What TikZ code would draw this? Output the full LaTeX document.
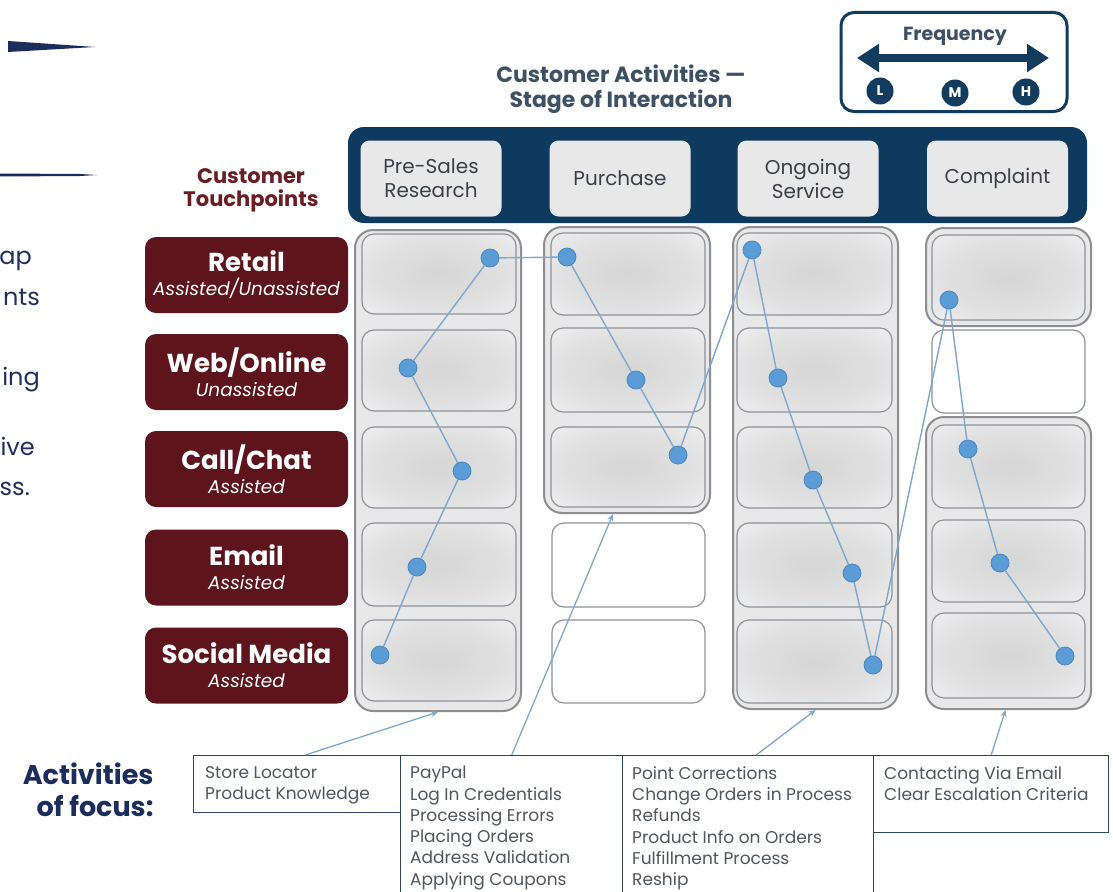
\documentclass[tikz,border=0pt]{standalone}
\usepackage{fontspec}
\setmainfont{Poppins}
\usetikzlibrary{arrows.meta,positioning,calc}

\definecolor{azulbarra}{HTML}{0D3A5E}
\definecolor{azulfreq}{HTML}{123B5E}
\definecolor{granate}{HTML}{5D141C}
\definecolor{granatetit}{HTML}{6A1E24}
\definecolor{azulfoco}{HTML}{1B2D5C}
\definecolor{azultexto}{HTML}{1F2E5C}
\definecolor{grisetapa}{HTML}{E8E8E8}
\definecolor{textoetapa}{HTML}{3A3F48}
\definecolor{gristit}{HTML}{3C5066}
\definecolor{bordecelda}{HTML}{8C939C}
\definecolor{bordegrupo}{HTML}{8E8E8E}
\definecolor{fondogrupo}{HTML}{E8E8E8}
\definecolor{celdaint}{HTML}{D6D6D6}
\definecolor{celdaext}{HTML}{F7F7F7}
\definecolor{puntoazul}{HTML}{5B9BD6}
\definecolor{puntoborde}{HTML}{4A86C2}
\definecolor{lineaazul}{HTML}{7EA7CF}
\definecolor{textolista}{HTML}{505560}
\definecolor{bordefoco}{HTML}{2E4466}

% sombreado suave de las celdas
\pgfdeclareradialshading{suave}{\pgfpointorigin}{color(0bp)=(celdaint); color(20bp)=(celdaint!70!celdaext);
  color(45bp)=(celdaext); color(50bp)=(celdaext)}

\tikzset{
  barra/.style={fill=azulbarra, rounded corners=16pt, inner sep=0pt},
  etapa/.style={fill=grisetapa, rounded corners=9pt, minimum width=141pt, minimum height=76pt,
    align=center, text=textoetapa, font=\fontsize{20}{24}\selectfont},
  canal/.style={fill=granate, rounded corners=11pt, minimum width=203pt, minimum height=76pt,
    align=center, text=white, inner sep=0pt, font=\fontsize{26}{24}\selectfont},
  grupo/.style={draw=bordegrupo, line width=2pt, fill=fondogrupo, rounded corners=18pt, inner sep=0pt},
  celda/.style={draw=bordecelda, line width=1.2pt, rounded corners=12pt, shading=suave},
  vacia/.style={draw=bordecelda, line width=1.2pt, rounded corners=12pt, fill=white},
  punto/.style={circle, fill=puntoazul, draw=puntoborde, line width=0.8pt, minimum size=18pt, inner sep=0pt},
  enlace/.style={draw=lineaazul, line width=1.4pt},
  foco/.style={draw=bordefoco, line width=1.4pt, fill=white, inner sep=0pt, anchor=north west},
  lista/.style={anchor=north west, align=left, text=textolista, font=\fontsize{17}{21.3}\selectfont, inner sep=0pt},
  flecha/.style={draw=lineaazul, line width=1.3pt, -{Stealth[length=7pt,width=6pt]}},
  frecletra/.style={circle, fill=azulfreq, minimum size=27pt, inner sep=0pt, text=white,
    font=\fontsize{14}{14}\selectfont\bfseries},
  corte/.style={anchor=base east, text=azultexto, font=\fontsize{24}{24}\selectfont, inner sep=0pt},
}
\newcommand{\sub}[1]{{\fontsize{18.5}{18}\selectfont\itshape #1}}

\begin{document}
\begin{tikzpicture}[x=1pt, y=-1pt]
  \useasboundingbox[fill=white] (0,0) rectangle (1113,891);

  % Adornos y texto cortado a la izquierda
  \fill[azulfoco] (8,41) -- (95,47) -- (8,52) -- cycle;
  \fill[azulfoco] (0,173.5) -- (80,174) -- (97,175) -- (80,176) -- (0,176.5) -- cycle;
  \node[corte] (c1) at (32,264) {ap};
  \node[corte] (c2) at (40,305) {nts};
  \node[corte] (c3) at (40,385) {ing};
  \node[corte] (c4) at (35,455) {ive};
  \node[corte] (c5) at (30,495) {ss.};

  % Caja de frecuencia
  \node[draw=azulfreq, line width=3pt, rounded corners=13pt, minimum width=226pt, minimum height=99pt] (freq) at (954,62) {};
  \node[text=gristit, font=\fontsize{19}{19}\selectfont\bfseries] (freqtit) at (955,36) {Frequency};
  \coordinate (fizq) at (857,58);
  \coordinate (fder) at (1049,58);
  \draw[azulfreq, line width=8pt, {Triangle[length=22pt,width=27pt]}-{Triangle[length=22pt,width=27pt]}] (fizq) -- (fder);
  \node[frecletra] (fl) at (880,91) {L};
  \node[frecletra] (fm) at (955,93) {M};
  \node[frecletra] (fh) at (1026,92) {H};

  % Titulos
  \node[align=center, text=gristit, font=\fontsize{22}{24.5}\selectfont\bfseries] (actividades) at (621,89)
    {Customer Activities —\\Stage of Interaction};
  \node[align=center, text=granatetit, font=\fontsize{21}{23}\selectfont\bfseries] (puntos) at (251,190)
    {Customer\\Touchpoints};

  % Barra de etapas
  \node[barra, minimum width=739pt, minimum height=96pt] (barra) at (717.5,175) {};
  \node[etapa] (e1) at (431,178.5) {Pre-Sales\\Research};
  \node[etapa] (e2) at (620,178.5) {Purchase};
  \node[etapa] (e3) at (808,178.5) {Ongoing\\Service};
  \node[etapa] (e4) at (997.5,178.5) {Complaint};

  % Canales (granate)
  \node[canal] (retail) at (246.5,275) {\bfseries Retail\\\sub{Assisted/Unassisted}};
  \node[canal] (web) at (246.5,372) {\bfseries Web/Online\\\sub{Unassisted}};
  \node[canal] (call) at (246.5,469) {\bfseries Call/Chat\\\sub{Assisted}};
  \node[canal] (email) at (246.5,567.5) {\bfseries Email\\\sub{Assisted}};
  \node[canal] (social) at (246.5,665.5) {\bfseries Social Media\\\sub{Assisted}};

  % Grupos de columnas
  \node[grupo, minimum width=166pt, minimum height=481pt] (g1) at (438,470.5) {};
  \node[grupo, minimum width=166pt, minimum height=286pt] (g2) at (627,370) {};
  \node[grupo, minimum width=165pt, minimum height=482pt] (g3) at (815.5,468) {};
  \node[grupo, minimum width=165pt, minimum height=98pt] (g4a) at (1008.5,277) {};
  \node[grupo, minimum width=165pt, minimum height=292pt] (g4b) at (1008.5,563) {};

  % Celdas
  \draw[celda] (362,234) rectangle (516,314);
  \draw[celda] (362,330) rectangle (516,411);
  \draw[celda] (362,427) rectangle (516,508);
  \draw[celda] (362,523) rectangle (516,606);
  \draw[celda] (362,620) rectangle (516,701);

  \draw[celda] (551,233) rectangle (705,315);
  \draw[celda] (551,328) rectangle (705,412);
  \draw[celda] (551,427) rectangle (705,507);
  \draw[vacia] (552,523) rectangle (705,607);
  \draw[vacia] (552,620) rectangle (705,703);

  \draw[celda] (737,233) rectangle (892,315);
  \draw[celda] (737,328) rectangle (892,412);
  \draw[celda] (737,427) rectangle (892,508);
  \draw[celda] (737,523) rectangle (892,607);
  \draw[celda] (737,620) rectangle (892,703);

  \draw[celda] (932,235) rectangle (1085,320);
  \draw[vacia] (932,330) rectangle (1085,413);
  \draw[celda] (932,425) rectangle (1085,508);
  \draw[celda] (932,520) rectangle (1085,602);
  \draw[celda] (932,613) rectangle (1085,698);

  % Puntos del recorrido
  \node[punto] (p11) at (490,258) {};
  \node[punto] (p12) at (408,368) {};
  \node[punto] (p13) at (462,471) {};
  \node[punto] (p14) at (417,567) {};
  \node[punto] (p15) at (380,655) {};
  \node[punto] (p21) at (567,257) {};
  \node[punto] (p22) at (636,380) {};
  \node[punto] (p23) at (678,455) {};
  \node[punto] (p31) at (752,250) {};
  \node[punto] (p32) at (778,378) {};
  \node[punto] (p33) at (813,480) {};
  \node[punto] (p34) at (852,573) {};
  \node[punto] (p35) at (873,665) {};
  \node[punto] (p41) at (949,300) {};
  \node[punto] (p42) at (968,449) {};
  \node[punto] (p43) at (1000,563) {};
  \node[punto] (p44) at (1065,656) {};

  % Recorrido
  \draw[enlace] (p15) -- (p14) -- (p13) -- (p12) -- (p11) -- (p21) -- (p22) -- (p23) -- (p31) -- (p32)
    -- (p33) -- (p34) -- (p35) -- (p41) -- (p42) -- (p43) -- (p44);

  % Actividades de foco
  \node[align=right, anchor=east, text=azulfoco, font=\fontsize{27}{32}\selectfont\bfseries] (focotit) at (157,790)
    {Activities\\of focus:};
  \node[foco, minimum width=207pt, minimum height=57pt] (foco1) at (193,755) {};
  \node[foco, minimum width=222pt, minimum height=145pt] (foco2) at (400,755) {};
  \node[foco, minimum width=251pt, minimum height=145pt] (foco3) at (622,755) {};
  \node[foco, minimum width=235pt, minimum height=77pt] (foco4) at (873,755) {};
  \node[lista] (l1) at ($(foco1.north west)+(12,11)$) {Store Locator\\Product Knowledge};
  \node[lista] (l2) at ($(foco2.north west)+(10,11)$) {PayPal\\Log In Credentials\\Processing Errors\\Placing Orders\\Address Validation\\Applying Coupons};
  \node[lista] (l3) at ($(foco3.north west)+(10,11)$) {Point Corrections\\Change Orders in Process\\Refunds\\Product Info on Orders\\Fulfillment Process\\Reship};
  \node[lista] (l4) at ($(foco4.north west)+(11,11)$) {Contacting Via Email\\Clear Escalation Criteria};

  % Flechas hacia las columnas
  \draw[flecha] ([xshift=8pt]foco1.north) -- (g1.south);
  \draw[flecha] (foco2.north) -- ([xshift=-14pt]g2.south);
  \draw[flecha] ([xshift=8pt]foco3.north) -- (g3.south);
  \draw[flecha] (foco4.north) -- ([xshift=-3pt]g4b.south);
\end{tikzpicture}
\end{document}
